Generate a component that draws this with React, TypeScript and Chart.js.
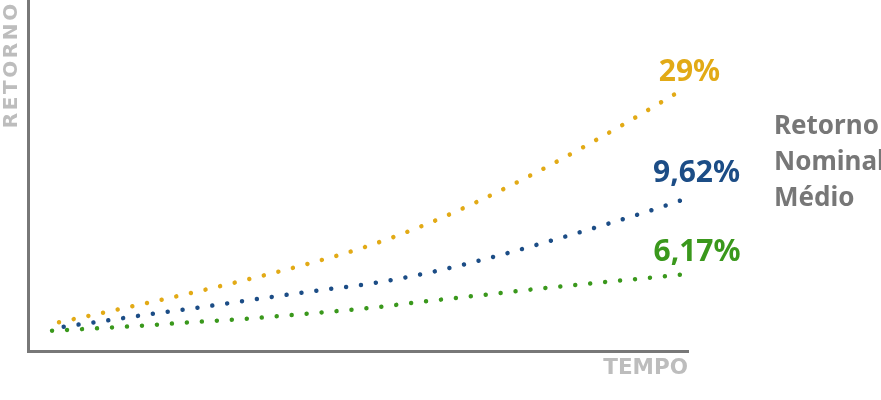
import React, { useEffect, useRef } from "react";
import { Chart, registerables } from "chart.js";

Chart.register(...registerables);

// Tempo (x, 0-100) and Retorno (y, 0-100)
const tempoAmarelo = [4.7, 11.36, 18.03, 24.7, 33.53, 42.32, 51.06, 59.59, 67.88, 76.06, 84.09, 91.97, 98.1];
const retornoAmarelo = [8.18, 10.91, 13.68, 16.52, 20.51, 24.79, 29.63, 35.53, 42.36, 49.94, 58.03, 66.47, 73.3];

const tempoAzul = [5.41, 12.23, 18.94, 25.71, 34.7, 43.74, 52.73, 61.67, 70.45, 79.24, 87.92, 94.44, 98.79];
const retornoAzul = [6.92, 8.75, 10.63, 12.34, 14.81, 17.18, 19.46, 22.71, 26.78, 31.42, 36.27, 40.09, 42.82];

const tempoVerde = [3.64, 10.5, 17.27, 24.09, 33.18, 42.23, 51.32, 60.3, 69.35, 78.38, 87.42, 94.24, 98.79];
const retornoVerde = [5.78, 6.47, 7.21, 8.12, 9.2, 10.63, 12.17, 14.16, 16.04, 17.95, 19.66, 20.88, 21.74];

const valueLabels = ["29%", "9,62%", "6,17%"];
const captionLines = ["Retorno", "Nominal", "Médio"];
const axisTitleY = "RETORNO";
const axisTitleX = "TEMPO";

const colors = ["#e2aa16", "#1c4d86", "#3a981c"];
const labelOffsets = [
  { dx: 14, dy: -13 },
  { dx: 16.5, dy: -18.4 },
  { dx: 17, dy: -14 },
];

const toPoints = (xs: number[], ys: number[]) => xs.map((x, i) => ({ x, y: ys[i] }));

const labelsPlugin = {
  id: "endLabels",
  afterDraw(chart: any) {
    const ctx = chart.ctx as CanvasRenderingContext2D;
    ctx.save();
    ctx.font = "bold 30px 'Noto Sans'";
    ctx.textAlign = "center";
    ctx.textBaseline = "alphabetic";
    chart.data.datasets.forEach((ds: any, i: number) => {
      const meta = chart.getDatasetMeta(i);
      const last = meta.data[meta.data.length - 1];
      if (!last) return;
      ctx.fillStyle = colors[i];
      ctx.fillText(valueLabels[i], last.x + labelOffsets[i].dx, last.y + labelOffsets[i].dy);
    });
    ctx.font = "bold 26px 'Noto Sans'";
    ctx.textAlign = "left";
    ctx.fillStyle = "#777777";
    const x0 = chart.chartArea.right + 86;
    captionLines.forEach((t, i) => {
      ctx.fillText(t, x0, 134.3 + i * 35.6);
    });
    // y-axis title with letter spacing
    const top = chart.chartArea.top;
    ctx.translate(17.3, top + 128.3);
    ctx.rotate(-Math.PI / 2);
    ctx.font = "bold 20px 'DejaVu Sans'";
    (ctx as any).letterSpacing = "2.6px";
    ctx.fillStyle = "#bdbdbd";
    ctx.textAlign = "left";
    ctx.fillText(axisTitleY, 0, 0);
    ctx.restore();
  },
};

export default function App() {
  const ref = useRef<HTMLCanvasElement | null>(null);
  useEffect(() => {
    if (!ref.current) return;
    const mk = (data: any[], color: string) => ({
      data,
      borderColor: color,
      backgroundColor: color,
      borderWidth: 4.5,
      borderDash: [0.01, 15],
      borderCapStyle: "round",
      pointRadius: 0,
      fill: false,
      cubicInterpolationMode: "monotone",
    });
    const chart = new Chart(ref.current, {
      type: "line",
      data: {
        datasets: [
          mk(toPoints(tempoAmarelo, retornoAmarelo), colors[0]),
          mk(toPoints(tempoAzul, retornoAzul), colors[1]),
          mk(toPoints(tempoVerde, retornoVerde), colors[2]),
        ] as any,
      },
      options: {
        responsive: false,
        animation: false,
        layout: { padding: { left: 0, right: 193, top: 0, bottom: 0 } },
        plugins: { legend: { display: false }, tooltip: { enabled: false } },
        scales: {
          x: {
            type: "linear",
            min: 0,
            max: 100,
            grid: { display: false, drawTicks: false },
            ticks: { display: false },
            border: { display: true, color: "#787878", width: 3 },
            title: {
              display: true,
              text: axisTitleX,
              align: "end",
              color: "#bdbdbd",
              font: { family: "'DejaVu Sans'", weight: "bold", size: 21.5, lineHeight: 1 },
              padding: { top: 6.5, bottom: 21 },
            },
          },
          y: {
            type: "linear",
            min: 0,
            max: 100,
            grid: { display: false, drawTicks: false },
            ticks: { display: false },
            border: { display: true, color: "#787878", width: 3 },
            title: {
              display: true,
              text: axisTitleY,
              align: "end",
              color: "rgba(0,0,0,0)",
              font: { family: "'DejaVu Sans'", weight: "bold", size: 21, lineHeight: 1 },
              padding: { top: 0, bottom: 7 },
            },
          },
        },
      } as any,
      plugins: [labelsPlugin],
    });
    return () => chart.destroy();
  }, []);
  return (
    <div style={{ position: "fixed", left: 0, top: 0, width: 881, height: 400, background: "#fff" }}>
      <canvas ref={ref} width={881} height={400} />
    </div>
  );
}
